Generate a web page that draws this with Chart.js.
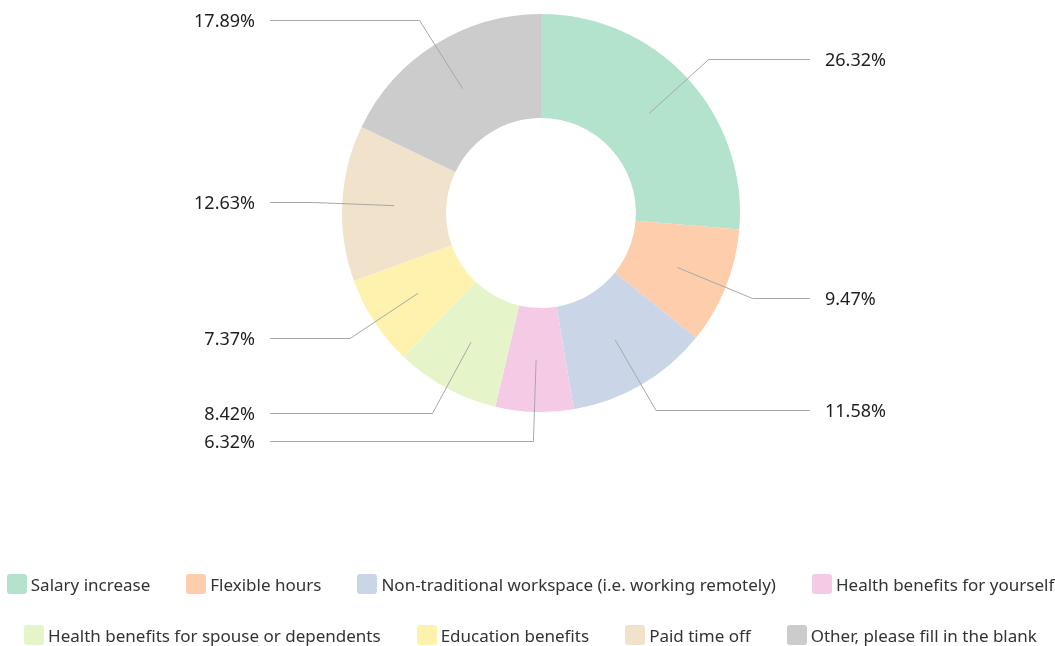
<!DOCTYPE html>
<html>
<head>
<meta charset="utf-8">
<script src="https://cdn.jsdelivr.net/npm/chart.js@4.4.1/dist/chart.umd.min.js"></script>
<style>
  html, body { margin: 0; padding: 0; background: #fff; }
  #wrap { position: relative; width: 1055px; height: 646px; overflow: hidden; }
  #chart-box { position: absolute; left: 0; top: 0; width: 1055px; height: 646px; }
  .legend-row {
    position: absolute; left: 6px; right: 0; height: 20px;
    display: flex; justify-content: center; align-items: center; gap: 36px;
    font-family: "Noto Sans", "Open Sans", sans-serif; font-size: 17px; color: #333;
    white-space: nowrap;
  }
  .legend-item { display: flex; align-items: center; gap: 4px; }
  .legend-swatch { width: 20px; height: 20px; border-radius: 3px; flex: none; }
</style>
</head>
<body>
<div id="wrap">
  <div id="chart-box"><canvas id="chart"></canvas></div>
  <div id="legend"></div>
</div>
<script>
'use strict';

const categories = [
  'Salary increase',
  'Flexible hours',
  'Non-traditional workspace (i.e. working remotely)',
  'Health benefits for yourself',
  'Health benefits for spouse or dependents',
  'Education benefits',
  'Paid time off',
  'Other, please fill in the blank'
];
const shares = [26.32, 9.47, 11.58, 6.32, 8.42, 7.37, 12.63, 17.89];
const sliceColors = ['#b3e2cd', '#fdcdac', '#cbd5e8', '#f4cae4', '#e6f5c9', '#fff2ae', '#f1e2cc', '#cccccc'];

const FONT = '"Noto Sans", "Open Sans", sans-serif';

// percent labels with elbow leader lines
const leaderLabels = {
  id: 'leaderLabels',
  afterDatasetsDraw(chart) {
    const ctx = chart.ctx;
    const meta = chart.getDatasetMeta(0);
    ctx.save();
    ctx.font = '18px ' + FONT;
    ctx.textBaseline = 'middle';
    meta.data.forEach((arc, i) => {
      const p = arc.getProps(['x', 'y', 'startAngle', 'endAngle', 'innerRadius', 'outerRadius'], true);
      const mid = (p.startAngle + p.endAngle) / 2;
      const r = (p.innerRadius + p.outerRadius) / 2;
      const cos = Math.cos(mid);
      const sin = Math.sin(mid);
      const x0 = p.x + cos * r;
      const y0 = p.y + sin * r;
      const x1 = p.x + cos * (r + 81);
      const y1 = Math.round(p.y + sin * (r + 81)) + 0.5;
      const right = cos >= 0;
      const x2 = right ? p.x + 269 : p.x - 271;

      ctx.strokeStyle = '#a8a8a8';
      ctx.lineWidth = 1;
      ctx.beginPath();
      ctx.moveTo(x0, y0);
      ctx.lineTo(x1, y1);
      ctx.lineTo(x2, y1);
      ctx.stroke();

      ctx.fillStyle = '#1f1f1f';
      ctx.textAlign = right ? 'left' : 'right';
      ctx.fillText(shares[i].toFixed(2) + '%', right ? x2 + 15 : x2 - 15, y1 + 1);
    });
    ctx.restore();
  }
};

new Chart(document.getElementById('chart'), {
  type: 'doughnut',
  data: {
    labels: categories,
    datasets: [{
      data: shares,
      backgroundColor: sliceColors,
      borderWidth: 0
    }]
  },
  options: {
    responsive: true,
    maintainAspectRatio: false,
    animation: false,
    radius: 199,
    cutout: '47.7%',
    layout: {
      padding: { top: 0, bottom: 220, left: 27, right: 0 }
    },
    plugins: {
      legend: { display: false },
      tooltip: { enabled: false }
    }
  },
  plugins: [leaderLabels]
});

// legend in two rows of four, like the original
const legendEl = document.getElementById('legend');
const rowTops = [574, 625];
rowTops.forEach((top, row) => {
  const rowEl = document.createElement('div');
  rowEl.className = 'legend-row';
  rowEl.style.top = top + 'px';
  for (let i = row * 4; i < row * 4 + 4; i++) {
    const item = document.createElement('div');
    item.className = 'legend-item';
    const sw = document.createElement('span');
    sw.className = 'legend-swatch';
    sw.style.background = sliceColors[i];
    const tx = document.createElement('span');
    tx.textContent = categories[i];
    item.appendChild(sw);
    item.appendChild(tx);
    rowEl.appendChild(item);
  }
  legendEl.appendChild(rowEl);
});
</script>
</body>
</html>
